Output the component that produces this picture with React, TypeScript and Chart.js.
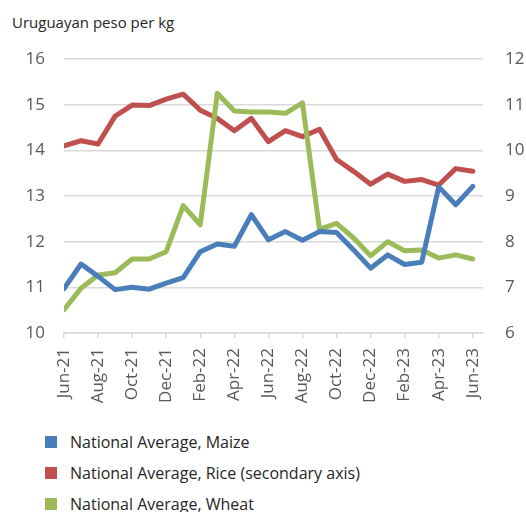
import React, { useEffect, useRef } from "react";
import { Chart, registerables } from "chart.js";

Chart.register(...registerables);

const categories = [
  "Jun-21", "Jul-21", "Aug-21", "Sep-21", "Oct-21", "Nov-21", "Dec-21", "Jan-22", "Feb-22",
  "Mar-22", "Apr-22", "May-22", "Jun-22", "Jul-22", "Aug-22", "Sep-22", "Oct-22", "Nov-22",
  "Dec-22", "Jan-23", "Feb-23", "Mar-23", "Apr-23", "May-23", "Jun-23",
];

const maize = [
  10.97, 11.51, 11.24, 10.95, 11.0, 10.96, 11.09, 11.21, 11.78, 11.95, 11.9, 12.59, 12.04,
  12.22, 12.03, 12.22, 12.2, 11.82, 11.42, 11.71, 11.5, 11.55, 13.2, 12.81, 13.21,
];

const rice = [
  10.1, 10.21, 10.14, 10.75, 10.99, 10.98, 11.12, 11.23, 10.88, 10.7, 10.43, 10.7, 10.19,
  10.43, 10.3, 10.46, 9.8, 9.54, 9.26, 9.48, 9.32, 9.36, 9.24, 9.6, 9.54,
];

const wheat = [
  10.51, 10.98, 11.27, 11.32, 11.62, 11.62, 11.78, 12.79, 12.37, 15.25, 14.86, 14.84, 14.84,
  14.81, 15.04, 12.27, 12.4, 12.08, 11.69, 12.0, 11.8, 11.82, 11.64, 11.71, 11.62,
];

const leftTicks = [10, 16];
const rightTicks = [6, 12];

const seriesNames = [
  "National Average, Maize",
  "National Average, Rice (secondary axis)",
  "National Average, Wheat",
];
const colors = ["#4a7ebb", "#c0504d", "#9bbb59"];

const FONT = "'Open Sans', sans-serif";

export default function App() {
  const ref = useRef<HTMLCanvasElement | null>(null);

  useEffect(() => {
    document.body.style.margin = "0";
    if (!ref.current) return;
    const toPts = (arr: number[]) => arr.map((v, i) => ({ x: i, y: v }));
    const common = {
      borderWidth: 5,
      pointRadius: 0,
      tension: 0,
      fill: false,
      borderJoinStyle: "round" as const,
      borderCapStyle: "round" as const,
    };
    const chart = new Chart(ref.current, {
      type: "line",
      data: {
        datasets: [
          { ...common, label: seriesNames[0], data: toPts(maize), borderColor: colors[0], backgroundColor: colors[0], yAxisID: "y", order: 0 },
          { ...common, label: seriesNames[1], data: toPts(rice), borderColor: colors[1], backgroundColor: colors[1], yAxisID: "y1", order: 2 },
          { ...common, label: seriesNames[2], data: toPts(wheat), borderColor: colors[2], backgroundColor: colors[2], yAxisID: "y", order: 1 },
        ],
      },
      options: {
        animation: false,
        responsive: false,
        maintainAspectRatio: false,
        layout: { padding: { top: 59, left: 0, right: 0, bottom: 0 } },
        plugins: { legend: { display: false }, title: { display: false }, tooltip: { enabled: false } },
        scales: {
          x: {
            type: "linear",
            min: 0,
            max: 24.6,
            afterFit: (s: any) => { s.height = 95; },
            grid: { drawOnChartArea: false, drawTicks: true, tickLength: 5, color: "#d9d9d9", lineWidth: 1.5 },
            border: { display: true, color: "#d9d9d9", width: 1.5 },
            ticks: {
              stepSize: 2,
              includeBounds: false,
              autoSkip: false,
              minRotation: 90,
              maxRotation: 90,
              padding: 10,
              color: "#595959",
              font: { family: FONT, size: 17 },
              callback: (v: any) => categories[Number(v)] ?? "",
            },
          },
          y: {
            position: "left",
            min: leftTicks[0],
            max: leftTicks[1],
            afterFit: (s: any) => { s.width = 64; },
            grid: { drawTicks: false, color: "#d9d9d9", lineWidth: 1.5 },
            border: { display: false },
            ticks: { stepSize: 1, padding: 19, color: "#595959", font: { family: FONT, size: 17 } },
          },
          y1: {
            position: "right",
            min: rightTicks[0],
            max: rightTicks[1],
            afterFit: (s: any) => { s.width = 43; },
            grid: { display: false, drawTicks: false },
            border: { display: false },
            ticks: { stepSize: 1, padding: 22, color: "#595959", font: { family: FONT, size: 17 } },
          },
        },
      },
    });
    return () => chart.destroy();
  }, []);

  return (
    <div style={{ position: "relative", width: 526, height: 512, overflow: "hidden", fontFamily: FONT }}>
      <div style={{ position: "absolute", left: 12, top: 12, fontSize: 15, color: "#262626", whiteSpace: "nowrap" }}>
        Uruguayan peso per kg
      </div>
      <canvas ref={ref} width={526} height={428} style={{ position: "absolute", left: 0, top: 0, width: 526, height: 428 }} />
      {seriesNames.map((name, i) => (
        <div
          key={name}
          style={{ position: "absolute", left: 45, top: 431 + i * 31, height: 22, display: "flex", alignItems: "center", whiteSpace: "nowrap" }}
        >
          <span style={{ display: "inline-block", width: 12, height: 12, background: colors[i], marginRight: 13 }} />
          <span style={{ fontSize: 16, color: "#262626" }}>{name}</span>
        </div>
      ))}
    </div>
  );
}
